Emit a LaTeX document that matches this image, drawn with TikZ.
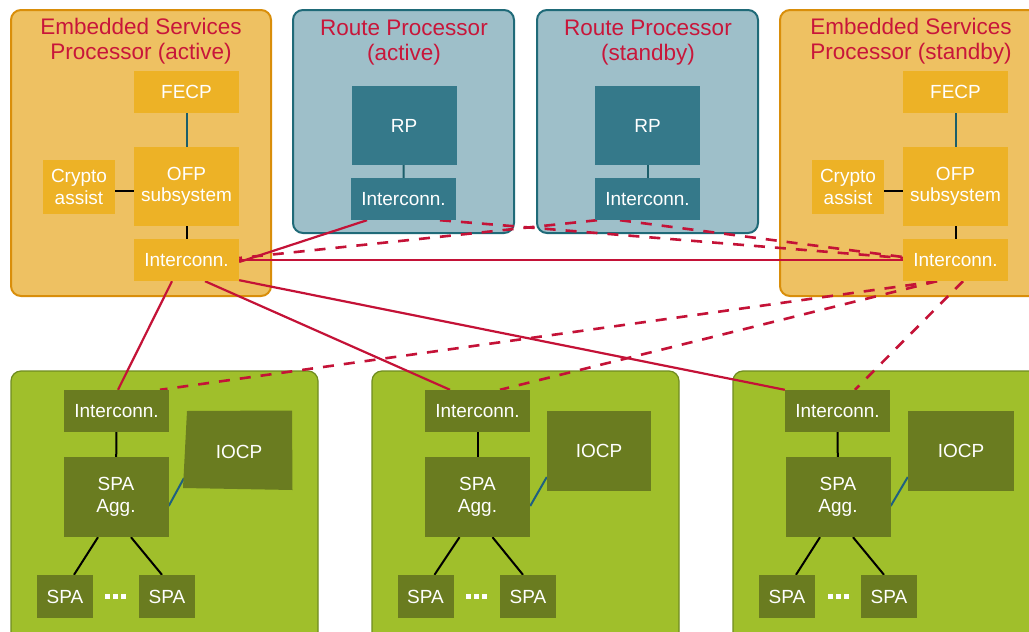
\documentclass[tikz,border=0pt]{standalone}
\usepackage{fontspec}
\setmainfont{Liberation Sans}
\usetikzlibrary{calc}
\definecolor{espfill}{HTML}{EEC162}
\definecolor{espborder}{HTML}{D98E0A}
\definecolor{espbox}{HTML}{EDB226}
\definecolor{rpfill}{HTML}{9EBFC9}
\definecolor{rpborder}{HTML}{1F6A78}
\definecolor{rpbox}{HTML}{35798A}
\definecolor{lcfill}{HTML}{A0BF2B}
\definecolor{lcborder}{HTML}{6F8C20}
\definecolor{lcbox}{HTML}{6A7C20}
\definecolor{titlered}{HTML}{C8163A}
\definecolor{linkred}{HTML}{C41237}
\definecolor{tealline}{HTML}{1B5E6A}
\definecolor{iocpline}{HTML}{1F6080}
\pgfdeclarelayer{back}
\pgfdeclarelayer{mid}
\pgfsetlayers{back,mid,main}
\tikzset{
  container/.style={rounded corners=10pt, line width=2pt},
  espcont/.style={container, fill=espfill, draw=espborder},
  rpcont/.style={container, fill=rpfill, draw=rpborder},
  lccont/.style={container, fill=lcfill, draw=lcborder, line width=1.2pt},
  title/.style={text=titlered, font=\fontsize{22.5}{25}\selectfont, align=center},
  blk/.style={minimum width=#1, inner sep=0pt, text=white, align=center,
     font=\fontsize{19}{21.5}\selectfont},
  espblk/.style={blk=105pt, fill=espbox},
  rpblk/.style={blk=105pt, fill=rpbox},
  lcblk/.style={blk=105pt, fill=lcbox},
  solidlink/.style={draw=linkred, line width=2.2pt},
  dashlink/.style={draw=linkred, line width=2.6pt, dash pattern=on 11pt off 10pt},
  blackline/.style={draw=black, line width=2pt},
  tealconn/.style={draw=tealline, line width=2pt},
  iocpconn/.style={draw=iocpline, line width=2pt},
  dotsq/.style={fill=white, minimum size=5pt, inner sep=0pt},
}
\begin{document}
\begin{tikzpicture}[x=1pt,y=-1pt]
\useasboundingbox (0,0) rectangle (1029,632);
\clip (0,0) rectangle (1029,632);

% ---------- containers ----------
\begin{pgfonlayer}{back}
\fill[white] (0,0) rectangle (1029,632);
\path[espcont] (11,10) rectangle (271,296);
\path[rpcont] (293,10) rectangle (514,233);
\path[rpcont] (537,10) rectangle (758,233);
\path[espcont] (780,10) rectangle (1045,296);
\path[lccont] (11,371) rectangle (318,645);
\path[lccont] (372,371) rectangle (679,645);
\path[lccont] (733,371) rectangle (1045,645);
\end{pgfonlayer}

% ---------- titles ----------
\node[title] (t1) at (141,41) {Embedded Services\\Processor (active)};
\node[title] (t2) at (404,43) {Route Processor\\(active)};
\node[title] (t3) at (648,43) {Route Processor\\(standby)};
\node[title] (t4) at (911,41) {Embedded Services\\Processor (standby)};

% ---------- ESP active ----------
\node[espblk, minimum height=42pt] (ef1) at (186.5,92) {FECP};
\node[espblk, minimum height=79pt] (eo1) at (186.5,186.5) {OFP\\subsystem};
\node[espblk, blk=72pt, fill=espbox, minimum height=54pt] (ec1) at (79,187) {Crypto\\assist};
\node[espblk, minimum height=42pt] (ei1) at (186.5,260) {Interconn.};

% ---------- ESP standby ----------
\node[espblk, minimum height=42pt] (ef2) at (955.5,92) {FECP};
\node[espblk, minimum height=79pt] (eo2) at (955.5,186.5) {OFP\\subsystem};
\node[espblk, blk=72pt, fill=espbox, minimum height=54pt] (ec2) at (848,187) {Crypto\\assist};
\node[espblk, minimum height=42pt] (ei2) at (955.5,260) {Interconn.};

% ---------- RPs ----------
\node[rpblk, minimum height=79pt] (rp1) at (404,125.5) {RP};
\node[rpblk, minimum height=42pt] (ri1) at (403.5,199) {Interconn.};
\node[rpblk, minimum height=79pt] (rp2) at (647.5,125.5) {RP};
\node[rpblk, minimum height=42pt] (ri2) at (647.5,199) {Interconn.};

% ---------- Line card 1 ----------
\node[lcblk, minimum height=42pt] (li1) at (116.5,411) {Interconn.};
\node[lcblk, minimum height=80pt] (la1) at (116,497) {SPA\\Agg.};
\fill[lcbox] (187,411) -- (292,410.5) -- (292.5,490) -- (183,488) -- cycle;
\node[blk=100pt] (lo1) at (239,452) {IOCP};
\coordinate (lo1w) at (184,478);
\node[lcblk, blk=56pt, fill=lcbox, minimum height=43pt] (ls1a) at (65,596.5) {SPA};
\node[lcblk, blk=56pt, fill=lcbox, minimum height=43pt] (ls1b) at (167,596.5) {SPA};
\node[dotsq] (d1a) at (107.5,596.5) {};
\node[dotsq] (d1b) at (115.5,596.5) {};
\node[dotsq] (d1c) at (123.5,596.5) {};

% ---------- Line card 2 ----------
\node[lcblk, minimum height=42pt] (li2) at (477.5,411) {Interconn.};
\node[lcblk, minimum height=80pt] (la2) at (477.5,497) {SPA\\Agg.};
\node[lcblk, blk=104pt, fill=lcbox, minimum height=80pt] (lo2) at (599,451) {IOCP};
\node[lcblk, blk=56pt, fill=lcbox, minimum height=43pt] (ls2a) at (425.5,596.5) {SPA};
\node[lcblk, blk=56pt, fill=lcbox, minimum height=43pt] (ls2b) at (528,596.5) {SPA};
\node[dotsq] (d2a) at (468.5,596.5) {};
\node[dotsq] (d2b) at (476.5,596.5) {};
\node[dotsq] (d2c) at (484.5,596.5) {};

% ---------- Line card 3 ----------
\node[lcblk, minimum height=42pt] (li3) at (837.5,411) {Interconn.};
\node[lcblk, minimum height=80pt] (la3) at (838,497) {SPA\\Agg.};
\node[lcblk, blk=106pt, fill=lcbox, minimum height=80pt] (lo3) at (961,451) {IOCP};
\node[lcblk, blk=56pt, fill=lcbox, minimum height=43pt] (ls3a) at (787,596.5) {SPA};
\node[lcblk, blk=56pt, fill=lcbox, minimum height=43pt] (ls3b) at (889,596.5) {SPA};
\node[dotsq] (d3a) at (830,596.5) {};
\node[dotsq] (d3b) at (838,596.5) {};
\node[dotsq] (d3c) at (846,596.5) {};

% ---------- connectors ----------
\begin{pgfonlayer}{mid}
% internal
\path[tealconn] (ef1) -- (eo1);
\path[blackline] (eo1) -- (ei1);
\path[blackline] ([yshift=-3.5pt]ec1.east) -- ([yshift=-3.5pt]ec1.east -| eo1.west);
\path[tealconn] (ef2) -- (eo2);
\path[blackline] (eo2) -- (ei2);
\path[blackline] ([yshift=-3.5pt]ec2.east) -- ([yshift=-3.5pt]ec2.east -| eo2.west);
\path[tealconn] (rp1) -- (ri1);
\path[tealconn] (rp2) -- (ri2);
\path[blackline] (li1) -- (la1);
\path[blackline] (li2) -- (la2);
\path[blackline] (li3) -- (la3);
\path[iocpconn] ([yshift=-9pt]la1.east) -- (lo1w);
\path[iocpconn] ([yshift=-9pt]la2.east) -- ([yshift=-26pt]lo2.west);
\path[iocpconn] ([yshift=-9pt]la3.east) -- ([yshift=-26pt]lo3.west);
\path[blackline] ([xshift=-18pt]la1.south) -- ([xshift=9pt]ls1a.north);
\path[blackline] ([xshift=15pt]la1.south) -- ([xshift=-5pt]ls1b.north);
\path[blackline] ([xshift=-18pt]la2.south) -- ([xshift=9pt]ls2a.north);
\path[blackline] ([xshift=15pt]la2.south) -- ([xshift=-5pt]ls2b.north);
\path[blackline] ([xshift=-18pt]la3.south) -- ([xshift=9pt]ls3a.north);
\path[blackline] ([xshift=15pt]la3.south) -- ([xshift=-5pt]ls3b.north);
% solid red links from active ESP
\path[solidlink] ([yshift=-2pt]ei1.east) -- ([xshift=-36.5pt]ri1.south);
\path[solidlink] (ei1.east) -- (ei2.west);
\path[solidlink] ([xshift=-14.5pt]ei1.south) -- ([xshift=1.5pt]li1.north);
\path[solidlink] ([xshift=18.5pt]ei1.south) -- ([xshift=-27.5pt]li2.north);
\path[solidlink] ([yshift=1pt]ei1.south east) -- (li3.north west);
% dashed red links
\path[dashlink] ([xshift=36.5pt]ri1.south) -- ([yshift=2pt]ei2.west);
\path[dashlink] ([xshift=-27.5pt]ri2.south) -- ([yshift=3pt]ei2.west);
\path[dashlink] ([xshift=-50.5pt]ri2.south) -- ([yshift=2pt]ei1.east);
\path[dashlink] ([xshift=-18.5pt]ei2.south) -- ([xshift=43.5pt]li1.north);
\path[dashlink] ([xshift=-18.5pt]ei2.south) -- ([xshift=22.5pt]li2.north);
\path[dashlink] ([xshift=7.5pt]ei2.south) -- ([xshift=17.5pt]li3.north);
\end{pgfonlayer}
\end{tikzpicture}
\end{document}
